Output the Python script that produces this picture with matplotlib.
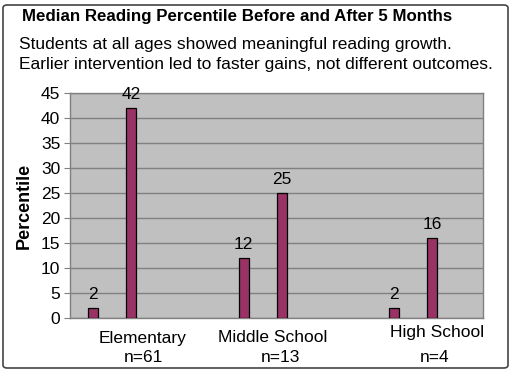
import matplotlib.pyplot as plt
from matplotlib.patches import FancyBboxPatch

plt.rcParams['font.family'] = ['Liberation Sans', 'DejaVu Sans']

categories = ["Elementary", "Middle School", "High School"]
counts = ["n=61", "n=13", "n=4"]
before = [2, 12, 2]
after = [42, 25, 16]

title = "Median Reading Percentile Before and After 5 Months"
subtitle = ["Students at all ages showed meaningful reading growth.",
            "Earlier intervention led to faster gains, not different outcomes."]

W, H = 512, 371
fig = plt.figure(figsize=(W / 100, H / 100), dpi=100)

# outer rounded frame
frame = FancyBboxPatch((3 / W, 3 / H), 505 / W, 363 / H,
                       boxstyle="round,pad=0,rounding_size=0.008",
                       transform=fig.transFigure, fill=False,
                       edgecolor="#444444", linewidth=1.2)
fig.patches.append(frame)

fig.text(22 / W, 1 - 17 / H, title, fontsize=12.2, fontweight="bold",
         va="center", ha="left")
fig.text(19 / W, 1 - 44 / H, subtitle[0], fontsize=12.5, va="center")
fig.text(19 / W, 1 - 65 / H, subtitle[1], fontsize=12.5, va="center")

# plot area
left, right, top, bottom = 70, 483, 93, 318
ax = fig.add_axes([left / W, 1 - bottom / H, (right - left) / W, (bottom - top) / H])
ax.set_facecolor("#C0C0C0")

gap = 0.2525
width = 0.066
xs = range(len(categories))
b1 = ax.bar([x for x in xs], before, width, color="#993366",
            edgecolor="black", linewidth=0.9, zorder=3)
b2 = ax.bar([x + gap for x in xs], after, width, color="#993366",
            edgecolor="black", linewidth=0.9, zorder=3)
for bars in (b1, b2):
    for r in bars:
        ax.annotate(f"{int(r.get_height())}",
                    (r.get_x() + r.get_width() / 2, r.get_height()),
                    xytext=(0, 4), textcoords="offset points",
                    ha="center", va="bottom", fontsize=12.5)

ax.set_xlim(-0.153, 2.591)
ax.set_ylim(0, 45)
ax.set_yticks(range(0, 50, 5))
ax.tick_params(axis="y", labelsize=12.5, length=4, color="#808080", pad=3)
ax.set_xticks([])
ax.yaxis.grid(True, color="#808080", linewidth=1.0, zorder=0)
for s in ax.spines.values():
    s.set_color("#808080")
    s.set_linewidth(1.0)
ax.set_ylabel("Percentile", fontsize=13, fontweight="bold", labelpad=6)

# category labels below the plot
label_pos = [(143, 338), (273, 338), (437, 333)]
count_pos = [(143, 357), (280, 357), (435, 357)]
for name, (px, py) in zip(categories, label_pos):
    fig.text(px / W, 1 - py / H, name, fontsize=12.5, ha="center", va="center")
for n, (px, py) in zip(counts, count_pos):
    fig.text(px / W, 1 - py / H, n, fontsize=12.5, ha="center", va="center")

fig.savefig("out.png", dpi=100)
